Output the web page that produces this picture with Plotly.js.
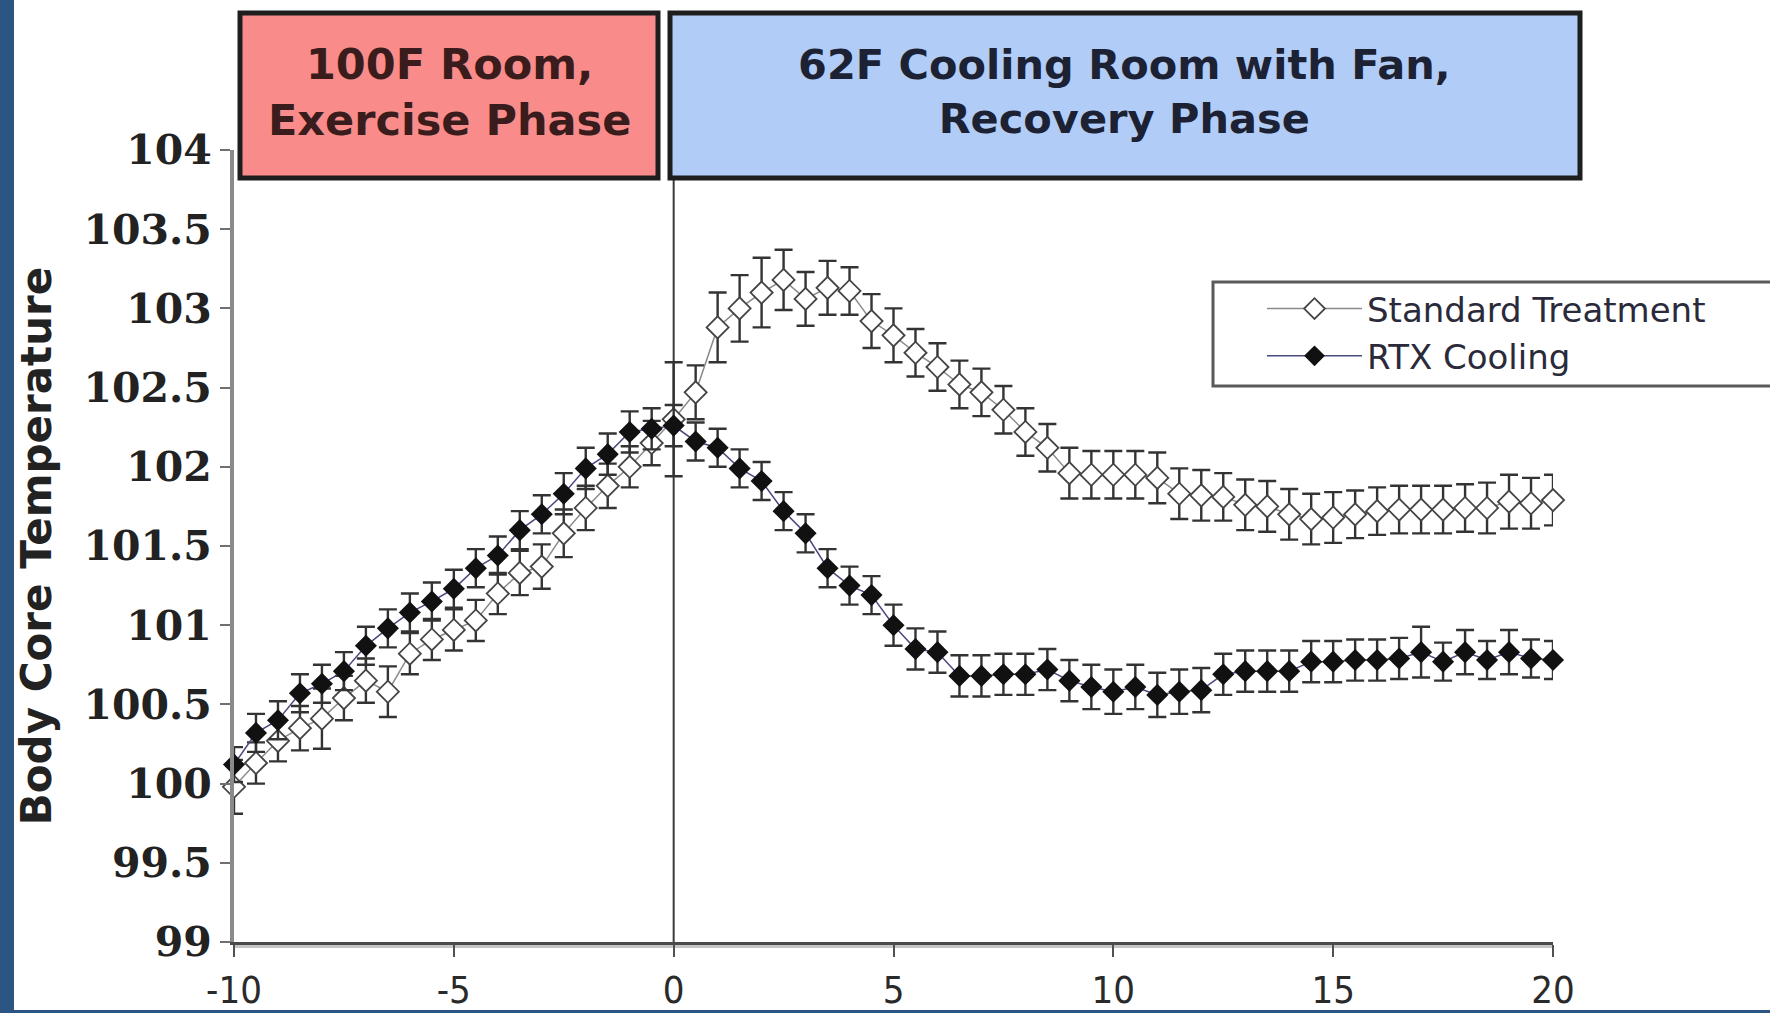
<!DOCTYPE html>
<html>
<head>
<meta charset="utf-8">
<script src="https://cdn.plot.ly/plotly-3.0.1.min.js"></script>
<style>
html,body{margin:0;padding:0;background:#ffffff;}
#chart{width:1770px;height:1013px;}
</style>
</head>
<body>
<div id="chart"></div>
<script>
// ---- data (minutes relative to end of exercise, body core temperature °F) ----
const timeMin = [-10,-9.5,-9,-8.5,-8,-7.5,-7,-6.5,-6,-5.5,-5,-4.5,-4,-3.5,-3,-2.5,-2,-1.5,-1,-0.5,0,
  0.5,1,1.5,2,2.5,3,3.5,4,4.5,5,5.5,6,6.5,7,7.5,8,8.5,9,9.5,10,
  10.5,11,11.5,12,12.5,13,13.5,14,14.5,15,15.5,16,16.5,17,17.5,18,18.5,19,19.5,20];

const standardTemp = [99.98,100.13,100.27,100.35,100.41,100.54,100.65,100.58,100.82,100.91,100.97,101.03,101.20,101.33,101.37,101.58,101.74,101.88,102.00,102.15,102.30,
  102.47,102.88,103.00,103.10,103.18,103.06,103.13,103.11,102.92,102.83,102.72,102.63,102.52,102.47,102.36,102.22,102.12,101.96,101.95,101.95,
  101.95,101.93,101.83,101.82,101.81,101.76,101.75,101.70,101.67,101.68,101.70,101.72,101.73,101.73,101.73,101.74,101.74,101.78,101.77,101.79];

const standardErr = [0.17,0.13,0.13,0.14,0.19,0.14,0.14,0.16,0.13,0.13,0.13,0.13,0.13,0.14,0.14,0.15,0.14,0.14,0.13,0.14,0.36,
  0.17,0.22,0.21,0.22,0.19,0.17,0.17,0.15,0.17,0.17,0.15,0.15,0.15,0.15,0.15,0.15,0.15,0.16,0.15,0.15,
  0.15,0.16,0.16,0.16,0.15,0.16,0.16,0.16,0.16,0.16,0.15,0.15,0.15,0.15,0.15,0.15,0.16,0.17,0.16,0.16];

const rtxTemp = [100.12,100.32,100.40,100.57,100.63,100.71,100.87,100.98,101.08,101.15,101.23,101.36,101.44,101.60,101.70,101.83,101.99,102.08,102.22,102.24,102.26,
  102.16,102.12,101.99,101.91,101.72,101.58,101.36,101.25,101.19,101.00,100.85,100.83,100.68,100.68,100.69,100.69,100.72,100.65,100.61,100.58,
  100.61,100.56,100.58,100.59,100.69,100.71,100.71,100.71,100.77,100.77,100.78,100.78,100.79,100.83,100.77,100.83,100.78,100.83,100.79,100.78];

const rtxErr = [0.11,0.12,0.12,0.12,0.12,0.12,0.12,0.12,0.12,0.12,0.12,0.12,0.12,0.12,0.12,0.13,0.13,0.13,0.13,0.13,0.13,
  0.12,0.12,0.12,0.12,0.12,0.12,0.12,0.12,0.12,0.13,0.13,0.13,0.13,0.13,0.13,0.13,0.13,0.13,0.14,0.14,
  0.14,0.14,0.14,0.14,0.13,0.13,0.13,0.13,0.13,0.13,0.13,0.13,0.13,0.16,0.12,0.14,0.12,0.14,0.12,0.12];

const seriesNames = ['Standard Treatment', 'RTX Cooling'];
const phaseLabels = ['100F Room,<br>Exercise Phase', '62F Cooling Room with Fan,<br>Recovery Phase'];
const yTickVals = [99, 99.5, 100, 100.5, 101, 101.5, 102, 102.5, 103, 103.5, 104];
const xTickVals = [-10, -5, 0, 5, 10, 15, 20];
const xTickText = ['-10', '-5', '0', '5', '10', '15', '20'];
const yAxisTitle = 'Body Core Temperature';

// ---- traces ----
const errStyle = {type: 'data', visible: true, color: '#333333', thickness: 2.4, width: 9};

const traces = [
  {
    type: 'scatter', mode: 'lines+markers', name: seriesNames[0],
    x: timeMin, y: standardTemp,
    error_y: Object.assign({array: standardErr}, errStyle),
    line: {color: '#8a8a8a', width: 1.5},
    marker: {symbol: 'diamond', size: 17, color: '#ffffff', line: {color: '#444444', width: 1.8}},
    cliponaxis: false
  },
  {
    type: 'scatter', mode: 'lines+markers', name: seriesNames[1],
    x: timeMin, y: rtxTemp,
    error_y: Object.assign({array: rtxErr}, errStyle),
    line: {color: '#4a4a80', width: 1.5},
    marker: {symbol: 'diamond', size: 17, color: '#111111', line: {color: '#111111', width: 0}},
    cliponaxis: false
  }
];

// ---- layout ----
const L = 234, R = 1553, T = 150, B = 942, W = 1770, H = 1013;
const px = v => (v - L) / (R - L);        // pixel x -> paper x
const py = v => (B - v) / (B - T);        // pixel y -> paper y

const layout = {
  width: W, height: H,
  paper_bgcolor: '#ffffff', plot_bgcolor: '#ffffff',
  margin: {l: L, r: W - R, t: T, b: H - B, autoexpand: false},
  showlegend: true,
  xaxis: {
    range: [-10, 20], tickmode: 'array', tickvals: xTickVals, ticktext: xTickText,
    showgrid: false, zeroline: false,
    showline: true, linecolor: '#4a4a4a', linewidth: 3,
    ticks: 'outside', ticklen: 12, tickwidth: 2, tickcolor: '#505050',
    tickfont: {family: 'Liberation Sans Narrow, DejaVu Sans Condensed, Liberation Sans, sans-serif', size: 38, color: '#2a2a2a'},
    ticklabelstandoff: 0,
    fixedrange: true
  },
  yaxis: {
    range: [99, 104], tickmode: 'array', tickvals: yTickVals,
    showgrid: false, zeroline: false,
    showline: true, linecolor: '#8a8a8a', linewidth: 4,
    ticks: 'outside', ticklen: 10, tickwidth: 2, tickcolor: '#707070',
    tickfont: {family: 'DejaVu Serif, serif', size: 41, color: '#222222', weight: 'bold'},
    title: {text: yAxisTitle, font: {family: 'DejaVu Sans, sans-serif', size: 42, color: '#222222', weight: 'bold'}, standoff: 20},
    fixedrange: true
  },
  legend: {
    x: px(1262), y: py(280), xanchor: 'left', yanchor: 'top',
    bgcolor: 'rgba(0,0,0,0)', borderwidth: 0,
    font: {family: 'DejaVu Sans, sans-serif', size: 34, color: '#2a2a3a'},
    itemwidth: 95,
    traceorder: 'normal'
  },
  shapes: [
    // legend frame (runs off the right edge as in the original)
    {type: 'rect', xref: 'paper', yref: 'paper', x0: px(1213), x1: px(1800), y0: py(386), y1: py(282),
     fillcolor: '#ffffff', line: {color: '#5a5a5a', width: 3}, layer: 'below'},
    // left dark blue frame strip
    {type: 'rect', xref: 'paper', yref: 'paper', x0: px(0), x1: px(14), y0: py(H), y1: py(0),
     fillcolor: '#2b5684', line: {width: 0}, layer: 'above'},
    // bottom dark blue frame line
    {type: 'rect', xref: 'paper', yref: 'paper', x0: px(0), x1: px(W), y0: py(H), y1: py(H - 3),
     fillcolor: '#2b5684', line: {width: 0}, layer: 'above'},
    // light shadow under x axis
    {type: 'line', xref: 'paper', yref: 'paper', x0: 0, x1: 1, y0: py(B + 4), y1: py(B + 4),
     line: {color: '#c4c4c4', width: 4}, layer: 'below'},
    // vertical divider at time 0
    {type: 'line', xref: 'x', yref: 'y', x0: 0, x1: 0, y0: 99, y1: 104,
     line: {color: '#3a3a3a', width: 2}, layer: 'below'},
    // phase boxes
    {type: 'rect', xref: 'paper', yref: 'paper', x0: px(240), x1: px(658), y0: py(178), y1: py(13),
     fillcolor: '#f98c8a', line: {color: '#1e1e1e', width: 5}, layer: 'above'},
    {type: 'rect', xref: 'paper', yref: 'paper', x0: px(670), x1: px(1580), y0: py(178), y1: py(13),
     fillcolor: '#b1cdf7', line: {color: '#1e1e1e', width: 5}, layer: 'above'}
  ],
  annotations: [
    {xref: 'paper', yref: 'paper', x: px(449), y: py(92), xanchor: 'center', yanchor: 'middle',
     text: phaseLabels[0], showarrow: false,
     font: {family: 'DejaVu Sans, sans-serif', size: 43, color: '#3a1c1c', weight: 'bold'}},
    {xref: 'paper', yref: 'paper', x: px(1124), y: py(92), xanchor: 'center', yanchor: 'middle',
     text: phaseLabels[1], showarrow: false,
     font: {family: 'DejaVu Sans, sans-serif', size: 41.5, color: '#1c2233', weight: 'bold'}}
  ]
};

Plotly.newPlot('chart', traces, layout, {staticPlot: true, displayModeBar: false});
</script>
</body>
</html>
